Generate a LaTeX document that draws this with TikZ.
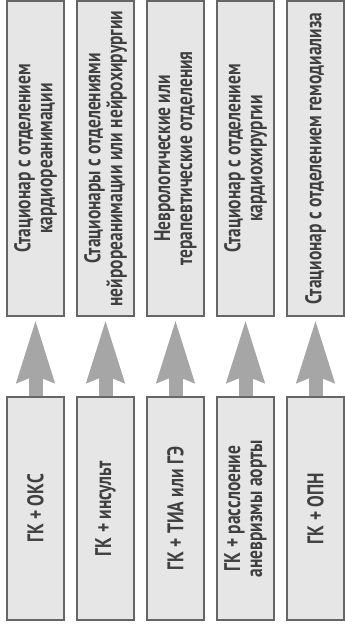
\documentclass[tikz,border=0pt]{standalone}
\usepackage{fontspec}
\setmainfont{PT Sans}[FakeStretch=0.77]
\definecolor{RouteFill}{HTML}{E6E6E6}
\definecolor{RouteEdge}{HTML}{666666}
\definecolor{RouteText}{HTML}{404040}
\definecolor{RouteArrow}{HTML}{A6A6A6}
\usetikzlibrary{arrows.meta}
\tikzset{
  ward/.style={draw=RouteEdge, fill=RouteFill, line width=1.1pt, rotate=90, align=center, inner sep=0pt, minimum width=236.25pt, minimum height=42.75pt, font=\fontsize{17}{16.5}\selectfont\bfseries, text=RouteText},
  case/.style={ward, minimum width=167.25pt},
  route/.style={-{Stealth[length=46.5pt,width=26.25pt,inset=4pt]}, line width=10.5pt, RouteArrow, shorten >=1.5pt}
}

\begin{document}
\begin{tikzpicture}[x=0.75pt, y=-0.75pt]
    \useasboundingbox (0,0) rectangle (344,628);
    % hospitals
    \node[ward] (ward1) at (35.5,158.5) {Стационар с отделением\\кардиореанимации};
    \node[ward] (ward2) at (105.5,158.5) {Стационары с отделениями\\нейрореанимации или нейрохирургии};
    \node[ward] (ward3) at (175.5,158.5) {Неврологические или\\терапевтические отделения};
    \node[ward] (ward4) at (245.5,158.5) {Стационар с отделением\\кардиохирургии};
    \node[ward] (ward5) at (315.5,158.5) {Стационар с отделением гемодиализа};
    % conditions
    \node[case] (case1) at (35.5,508.5) {ГК + ОКС};
    \node[case] (case2) at (105.5,508.5) {ГК + инсульт};
    \node[case] (case3) at (175.5,508.5) {ГК + ТИА или ГЭ};
    \node[case] (case4) at (245.5,508.5) {ГК + расслоение\\аневризмы аорты};
    \node[case] (case5) at (315.5,508.5) {ГК + ОПН};

    \draw[route] (case1.east) -- (ward1.west);
    \draw[route] (case2.east) -- (ward2.west);
    \draw[route] (case3.east) -- (ward3.west);
    \draw[route] (case4.east) -- (ward4.west);
    \draw[route] (case5.east) -- (ward5.west);
  \end{tikzpicture}
\end{document}
